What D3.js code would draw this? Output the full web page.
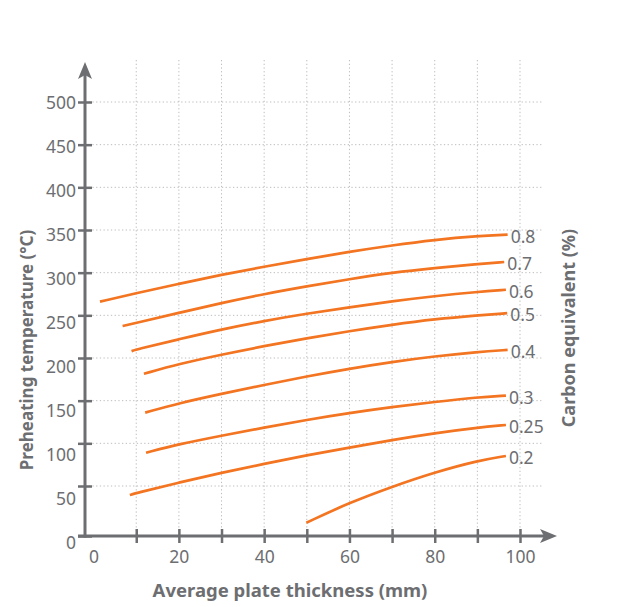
<!DOCTYPE html>
<html>
<head>
<meta charset="utf-8">
<script src="https://cdn.jsdelivr.net/npm/d3@7"></script>
<style>
  body { margin: 0; background: #fff; }
  svg { display: block; }
  .tick text { font-family: "Noto Sans", sans-serif; }
</style>
</head>
<body>
<div id="chart"></div>
<script>
// Preheating temperature vs plate thickness, one line per carbon equivalent

// carbon equivalent (%) of each curve, top to bottom
var carbonLabels = ["0.8", "0.7", "0.6", "0.5", "0.4", "0.3", "0.25", "0.2"];

// thickness (mm) / temperature (°C)
var ce08 = [[1.5,266],[10,276],[20,287],[30,297.5],[40,307],[50,316],[60,324.5],[70,332],[80,338.5],[90,343],[97.1,344.5]];
var ce07 = [[6.8,237.5],[10,241],[20,253],[30,264.5],[40,275],[50,284],[60,292.5],[70,300],[80,305.5],[90,310],[96.3,312.5]];
var ce06 = [[8.9,208],[10,210],[20,222],[30,233.5],[40,243.5],[50,252],[60,259.5],[70,266.5],[80,272.5],[90,277.5],[96.7,280]];
var ce05 = [[11.8,181.5],[20,193],[30,204],[40,214],[50,223],[60,231.5],[70,239],[80,245.5],[90,250],[97,252.5]];
var ce04 = [[12.1,136],[20,147],[30,158],[40,168.5],[50,178.5],[60,187.5],[70,195.5],[80,202],[90,207],[97.1,209.5]];
var ce03 = [[12.3,89],[20,99],[30,109],[40,118.5],[50,127.5],[60,135.5],[70,142.5],[80,148.5],[90,154],[96.7,156]];
var ce025 = [[8.5,41],[10,43],[20,54],[30,65.5],[40,76],[50,86],[60,95],[70,104],[80,112],[90,118.5],[96.7,121.5]];
var ce02 = [[49.9,13.3],[60,33.3],[70,49.3],[80,66],[90,79.6],[96.7,85.2]];

var allSeries = [ce08, ce07, ce06, ce05, ce04, ce03, ce025, ce02];

// ticks
var xTicks = [10, 20, 30, 40, 50, 60, 70, 80, 90, 100];
var xTickLabels = [0, 20, 40, 60, 80, 100];
var yTicks = [0, 50, 100, 150, 200, 250, 300, 350, 400, 450, 500];

var width = 627, height = 607;
var axisColor = "#6d6e71";
var lineColor = "#f37421";
var axisX = 85, axisY = 536, yTop = 62, xRight = 557, gridRight = 542;

var svg = d3.select("#chart").append("svg")
    .attr("width", width)
    .attr("height", height);

var x = d3.scaleLinear().domain([0, 100]).range([93.6, 520]);
// the bottom step of the original axis is a bit taller than the others
var y = d3.scaleLinear().domain([0, 50, 500]).range([axisY, 486, 102]);
// tick labels drift slightly from their ticks in the original
var yLab = d3.scaleLinear().domain([0, 500]).range([543, 103]);

// gridlines
svg.append("g").selectAll("line.hgrid")
    .data(yTicks.slice(1))
    .enter().append("line")
    .attr("x1", axisX).attr("x2", gridRight)
    .attr("y1", function (d) { return y(d); })
    .attr("y2", function (d) { return y(d); })
    .attr("stroke", "#bdbdbd")
    .attr("stroke-width", 1)
    .attr("stroke-dasharray", "1.3,2.4");

svg.append("g").selectAll("line.vgrid")
    .data(xTicks)
    .enter().append("line")
    .attr("x1", function (d) { return x(d); })
    .attr("x2", function (d) { return x(d); })
    .attr("y1", yTop - 2).attr("y2", axisY)
    .attr("stroke", "#bdbdbd")
    .attr("stroke-width", 1)
    .attr("stroke-dasharray", "1.3,2.4");

// curves
var line = d3.line()
    .x(function (d) { return x(d[0]); })
    .y(function (d) { return y(d[1]); })
    .curve(d3.curveBasis);

svg.append("g").selectAll("path.ce")
    .data(allSeries)
    .enter().append("path")
    .attr("class", "ce")
    .attr("d", line)
    .attr("fill", "none")
    .attr("stroke", lineColor)
    .attr("stroke-width", 2.7);

// curve labels at the right end of each curve
svg.append("g").selectAll("text.celab")
    .data(allSeries)
    .enter().append("text")
    .attr("x", function (d) { return x(d[d.length - 1][0]) + 3; })
    .attr("y", function (d) { return y(d[d.length - 1][1]) + 2; })
    .attr("dy", "0.35em")
    .attr("font-family", "Noto Sans, sans-serif")
    .attr("font-size", 17.5)
    .attr("fill", axisColor)
    .text(function (d, i) { return carbonLabels[i]; });

// y ticks (crossing the axis line)
var yAxisTicks = svg.append("g")
    .attr("transform", "translate(" + (axisX + 7) + ",0)")
    .call(d3.axisLeft(y).tickValues(yTicks).tickSize(14).tickFormat(""));
yAxisTicks.select(".domain").remove();
yAxisTicks.selectAll(".tick line").attr("stroke", axisColor).attr("stroke-width", 2.5);

var yAxisLabels = svg.append("g")
    .attr("transform", "translate(" + axisX + ",0)")
    .call(d3.axisLeft(yLab).tickValues(yTicks).tickSize(0).tickPadding(9));
yAxisLabels.select(".domain").remove();
yAxisLabels.selectAll(".tick text")
    .attr("fill", axisColor)
    .attr("font-size", 17.5);

// x ticks
var xAxisTicks = svg.append("g")
    .attr("transform", "translate(0," + (axisY - 7) + ")")
    .call(d3.axisBottom(x).tickValues(xTicks).tickSize(14).tickFormat(""));
xAxisTicks.select(".domain").remove();
xAxisTicks.selectAll(".tick line").attr("stroke", axisColor).attr("stroke-width", 2.5);

var xAxisLabels = svg.append("g")
    .attr("transform", "translate(0," + axisY + ")")
    .call(d3.axisBottom(x).tickValues(xTickLabels).tickSize(0).tickPadding(15));
xAxisLabels.select(".domain").remove();
xAxisLabels.selectAll(".tick text")
    .attr("fill", axisColor)
    .attr("font-size", 17.5);

// axis lines with arrow heads
svg.append("line")
    .attr("x1", axisX).attr("x2", axisX)
    .attr("y1", axisY + 1.5).attr("y2", yTop + 10)
    .attr("stroke", axisColor).attr("stroke-width", 3);
svg.append("path")
    .attr("d", "M" + axisX + "," + yTop + "L" + (axisX + 7) + "," + (yTop + 17) +
               "L" + axisX + "," + (yTop + 13) + "L" + (axisX - 7) + "," + (yTop + 17) + "Z")
    .attr("fill", axisColor);

svg.append("line")
    .attr("x1", axisX - 7).attr("x2", xRight - 10)
    .attr("y1", axisY).attr("y2", axisY)
    .attr("stroke", axisColor).attr("stroke-width", 3);
svg.append("path")
    .attr("d", "M" + xRight + "," + axisY + "L" + (xRight - 17) + "," + (axisY - 7) +
               "L" + (xRight - 13) + "," + axisY + "L" + (xRight - 17) + "," + (axisY + 7) + "Z")
    .attr("fill", axisColor);

// axis titles
svg.append("text")
    .attr("x", 290).attr("y", 597)
    .attr("text-anchor", "middle")
    .attr("font-family", "Noto Sans, sans-serif")
    .attr("font-weight", "bold")
    .attr("font-size", 18.5)
    .attr("fill", axisColor)
    .text("Average plate thickness (mm)");

svg.append("text")
    .attr("transform", "translate(33,350) rotate(-90)")
    .attr("text-anchor", "middle")
    .attr("font-family", "Noto Sans, sans-serif")
    .attr("font-weight", "bold")
    .attr("font-size", 17)
    .attr("fill", axisColor)
    .text("Preheating temperature (°C)");

svg.append("text")
    .attr("transform", "translate(575,328) rotate(-90)")
    .attr("text-anchor", "middle")
    .attr("font-family", "Noto Sans, sans-serif")
    .attr("font-weight", "bold")
    .attr("font-size", 18)
    .attr("fill", axisColor)
    .text("Carbon equivalent (%)");
</script>
</body>
</html>
